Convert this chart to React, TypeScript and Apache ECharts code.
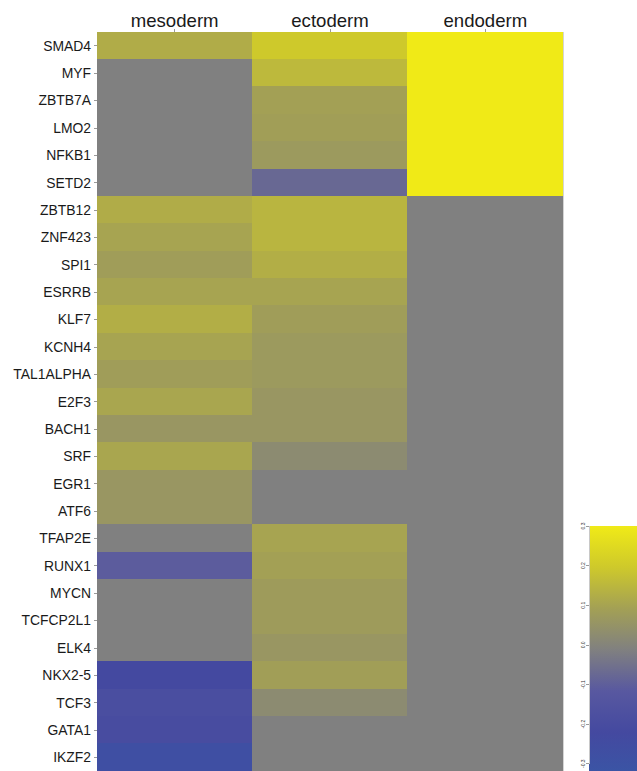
import React, { useEffect, useRef } from "react";
import * as echarts from "echarts";

const genes = [
  "SMAD4", "MYF", "ZBTB7A", "LMO2", "NFKB1", "SETD2", "ZBTB12", "ZNF423", "SPI1",
  "ESRRB", "KLF7", "KCNH4", "TAL1ALPHA", "E2F3", "BACH1", "SRF", "EGR1", "ATF6",
  "TFAP2E", "RUNX1", "MYCN", "TCFCP2L1", "ELK4", "NKX2-5", "TCF3", "GATA1", "IKZF2",
];
const layers = ["mesoderm", "ectoderm", "endoderm"];

const mesoderm = [
  0.13, 0, 0, 0, 0, 0, 0.13, 0.11, 0.09, 0.11, 0.135, 0.11, 0.09, 0.115, 0.07, 0.115,
  0.07, 0.07, 0, -0.09, 0, 0, 0, -0.2, -0.17, -0.18, -0.25,
];
const ectoderm = [
  0.2, 0.16, 0.1, 0.095, 0.08, -0.06, 0.15, 0.15, 0.135, 0.11, 0.09, 0.08, 0.08, 0.07,
  0.07, 0.035, 0, 0, 0.11, 0.1, 0.085, 0.085, 0.07, 0.095, 0.035, 0, 0,
];
const endoderm = [
  0.3, 0.3, 0.3, 0.3, 0.3, 0.3, 0, 0, 0, 0, 0, 0, 0, 0, 0, 0, 0, 0, 0, 0, 0, 0, 0, 0, 0, 0, 0,
];

const scaleMin = -0.3;
const scaleMax = 0.3;
const scaleColors = ["#3A55A5", "#4449A0", "#5858A0", "#808080", "#A3A055", "#CEC92B", "#F0EA17"];
const colorbarTicks = [-3, -2, -1, 0, 1, 2, 3];

const FONT = "Liberation Sans, Arial, Helvetica, sans-serif";

export default function App() {
  const ref = useRef<HTMLDivElement>(null);

  useEffect(() => {
    if (!ref.current) return;
    const chart = echarts.init(ref.current, undefined, { renderer: "svg" });
    const columns = [mesoderm, ectoderm, endoderm];
    const data: number[][] = [];
    columns.forEach((col, xi) => {
      col.forEach((v, yi) => data.push([xi, yi, v]));
    });

    const cbLeft = 589;
    const cbTop = 526;
    const cbHeight = 248;

    chart.setOption({
      animation: false,
      grid: [
        { left: 97, right: 74, top: 32, bottom: 0 },
        { left: cbLeft, top: cbTop, width: 48, height: cbHeight },
      ],
      xAxis: [
        {
          type: "category",
          data: layers,
          position: "top",
          gridIndex: 0,
          axisLine: { show: true, lineStyle: { color: "#d4d4d4", width: 1 } },
          axisTick: { show: true, alignWithLabel: true, length: 3, lineStyle: { color: "#9a9a9a" } },
          axisLabel: { color: "#1a1a1a", fontSize: 18.6, fontFamily: FONT, margin: 2 },
          splitLine: { show: false },
        },
        { type: "value", gridIndex: 1, show: false, min: 0, max: 1 },
      ],
      yAxis: [
        {
          type: "category",
          data: genes,
          inverse: true,
          gridIndex: 0,
          axisLine: { show: true, lineStyle: { color: "#d4d4d4", width: 1 } },
          axisTick: { show: true, alignWithLabel: true, length: 3, lineStyle: { color: "#9a9a9a" } },
          axisLabel: { color: "#1a1a1a", fontSize: 13.9, fontFamily: FONT, margin: 6 },
          splitLine: { show: false },
        },
        {
          type: "category",
          data: genes,
          inverse: true,
          gridIndex: 0,
          position: "right",
          axisLine: { show: true, lineStyle: { color: "#d4d4d4", width: 1 } },
          axisTick: { show: false },
          axisLabel: { show: false },
        },
        {
          type: "value",
          gridIndex: 1,
          min: colorbarTicks[0],
          max: colorbarTicks[colorbarTicks.length - 1],
          interval: 1,
          axisLine: { show: true, lineStyle: { color: "#c8c8c8" } },
          axisTick: { show: true, length: 3, lineStyle: { color: "#9a9a9a" } },
          axisLabel: {
            rotate: 90,
            fontSize: 5,
            color: "#333",
            margin: 4,
            fontFamily: FONT,
            formatter: (v: number) => (v / 10).toFixed(1),
          },
          splitLine: { show: false },
        },
      ],
      visualMap: {
        show: false,
        type: "continuous",
        min: scaleMin,
        max: scaleMax,
        seriesIndex: 0,
        dimension: 2,
        inRange: { color: scaleColors },
      },
      graphic: [
        {
          type: "rect",
          z: 0,
          shape: { x: cbLeft, y: cbTop, width: 60, height: cbHeight },
          style: {
            fill: new echarts.graphic.LinearGradient(
              0, 0, 0, 1,
              scaleColors
                .slice()
                .reverse()
                .map((c, i) => ({ offset: i / (scaleColors.length - 1), color: c }))
            ),
          },
        },
      ],
      series: [
        {
          type: "heatmap",
          xAxisIndex: 0,
          yAxisIndex: 0,
          data,
          itemStyle: { borderWidth: 0 },
          emphasis: { disabled: true },
          label: { show: false },
        },
      ],
    });
    return () => chart.dispose();
  }, []);

  return (
    <>
      <style>{"#root svg path { shape-rendering: crispEdges; }"}</style>
      <div
        ref={ref}
        style={{ position: "absolute", left: 0, top: 0, width: 637, height: 771 }}
      />
    </>
  );
}
